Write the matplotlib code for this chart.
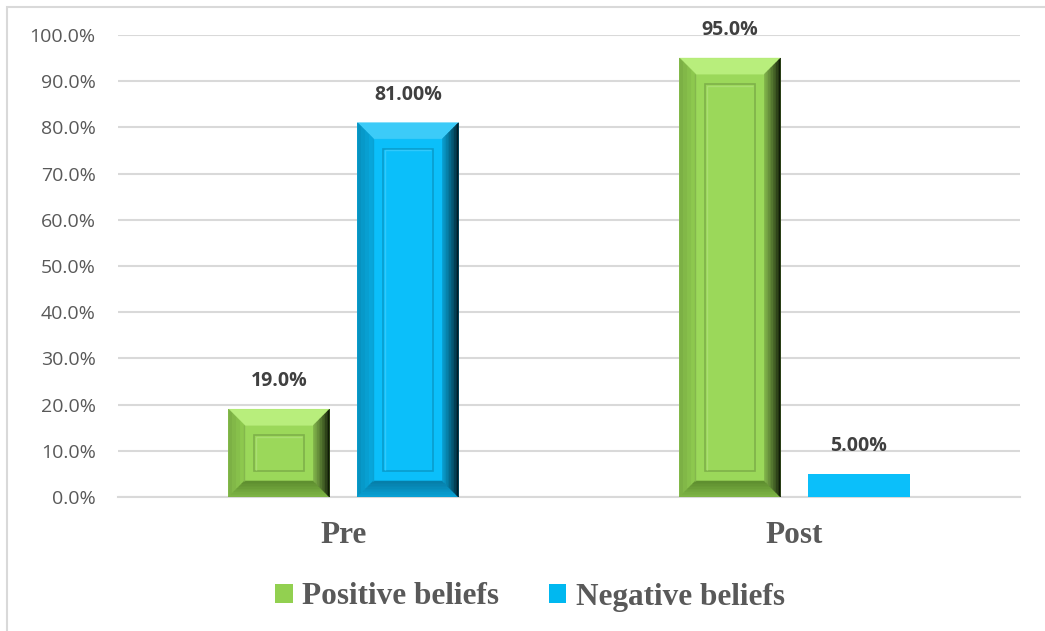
import numpy as np
import matplotlib
matplotlib.use("Agg")
import matplotlib.pyplot as plt
from matplotlib.patches import Polygon, Rectangle
from matplotlib.colors import to_rgb

# ---- data ----
categories = ["Pre", "Post"]
positive = [19.0, 95.0]
negative = [81.0, 5.0]
positive_labels = ["19.0%", "95.0%"]
negative_labels = ["81.00%", "5.00%"]
series_names = ["Positive beliefs", "Negative beliefs"]
yticks = [0, 10, 20, 30, 40, 50, 60, 70, 80, 90, 100]

W, H = 1045, 631
fig = plt.figure(figsize=(W / 100, H / 100), dpi=100)
ax = fig.add_axes([118 / W, (H - 497) / H, 902 / W, 462 / H])
ax.set_xlim(-0.5, 1.5)
ax.set_ylim(0, 100)

green = "#9BD85A"
blue = "#0BBFFA"
x = np.arange(len(categories))
bw = 0.224
off = 0.143

bars_p = ax.bar(x - off, positive, bw, color=green, zorder=3, linewidth=0)
bars_n = ax.bar(x + off, negative, bw, color=blue, zorder=3, linewidth=0)

# grid
ax.set_yticks(yticks)
ax.set_yticklabels([f"{v:.1f}%" for v in yticks])
ax.yaxis.grid(True, color="#D9D9D9", linewidth=1.5, zorder=0)
ax.set_axisbelow(True)
for s in ["top", "right", "left"]:
    ax.spines[s].set_visible(False)
ax.spines["bottom"].set_color("#D9D9D9")
ax.spines["bottom"].set_linewidth(1.5)
ax.tick_params(axis="y", length=0, pad=16, labelsize=14, labelcolor="#595959")
for t in ax.get_yticklabels():
    t.set_fontfamily("Open Sans")
ax.set_xticks(x)
ax.set_xticklabels(categories)
ax.tick_params(axis="x", length=0, pad=17)
for t in ax.get_xticklabels():
    t.set_fontfamily("Liberation Serif")
    t.set_fontweight("bold")
    t.set_fontsize(22.5)
    t.set_color("#595959")

# bevel decoration derived from bar patches
def mix(c1, c2, t):
    a, b = np.array(to_rgb(c1)), np.array(to_rgb(c2))
    return tuple(a + (b - a) * t)

fig.canvas.draw()
toD = ax.transData
inv = ax.transData.inverted()

def bevel(patch, base, light, left_c, bottom_c, right_dark):
    x0, y0 = patch.get_x(), patch.get_y()
    x1, y1 = x0 + patch.get_width(), y0 + patch.get_height()
    (px0, py0), (px1, py1) = toD.transform([(x0, y0), (x1, y1)])
    if py1 - py0 < 40:
        return
    b = 16
    def D(pts):
        return inv.transform(pts)
    def poly(pts, col, z=4):
        ax.add_patch(Polygon(D(pts), facecolor=col, edgecolor=col, linewidth=0.4, zorder=z))
    # top
    poly([(px0, py1), (px1, py1), (px1 - b, py1 - b), (px0 + b, py1 - b)], light)
    # left gradient
    n = 4
    for i in range(n):
        xa, xb = px0 + b * i / n, px0 + b * (i + 1) / n
        col = mix(mix(left_c, "black", 0.12), left_c, i / (n - 1))
        poly([(xa, py0 + b * i / n), (xa, py1 - b * i / n),
              (xb, py1 - b * (i + 1) / n), (xb, py0 + b * (i + 1) / n)], col)
    # bottom gradient strips
    n = 6
    for i in range(n):
        ya, yb = py0 + b * i / n, py0 + b * (i + 1) / n
        col = mix(mix(bottom_c, base, 0.5), bottom_c, i / (n - 1))
        poly([(px0 + b * i / n, ya), (px1 - b * i / n, ya),
              (px1 - b * (i + 1) / n, yb), (px0 + b * (i + 1) / n, yb)], col)
    # right gradient strips
    n = 10
    for i in range(n):
        xa, xb = px1 - b * i / n, px1 - b * (i + 1) / n
        col = mix(right_dark, mix(base, "black", 0.2), (i / (n - 1)) ** 0.8)
        poly([(xa, py0 + b * i / n), (xa, py1 - b * i / n),
              (xb, py1 - b * (i + 1) / n), (xb, py0 + b * (i + 1) / n)], col, z=4.5)
    # inner frame line
    ax.add_patch(Polygon(D([(px0 + b, py0 + b), (px0 + b, py1 - b)]), closed=False, fill=False,
                         edgecolor=mix(base, "black", 0.15), linewidth=1.0, zorder=5))
    # inner panel
    c = 26
    ax.add_patch(Rectangle(D([(px0 + c, py0 + c)])[0],
                           *(D([(px1 - c, py1 - c)])[0] - D([(px0 + c, py0 + c)])[0]),
                           fill=False, edgecolor=mix(base, "black", 0.18), linewidth=1.2, zorder=5))
    ax.add_patch(Polygon(D([(px0 + c + 1.5, py0 + c + 1.5), (px0 + c + 1.5, py1 - c - 1.5),
                            (px1 - c - 1.5, py1 - c - 1.5)]), closed=False, fill=False,
                         edgecolor=mix(base, "white", 0.15), linewidth=1.0, zorder=5))

for p in bars_p:
    bevel(p, green, "#B8EE7C", "#8DC84E", "#5F8F30", "#0C1605")
for p in bars_n:
    bevel(p, blue, "#3CCBF8", "#08A6DA", "#067FAA", "#001A24")

# data labels
for p, lab in list(zip(bars_p, positive_labels)) + list(zip(bars_n, negative_labels)):
    xc = p.get_x() + p.get_width() / 2
    top = p.get_height()
    ax.annotate(lab, (xc, top), xytext=(0, 20), textcoords="offset points",
                ha="center", va="center", fontsize=14, fontweight="bold",
                fontfamily="Open Sans", color="#404040", annotation_clip=False)

# legend
h1 = Rectangle((0, 0), 1, 1, facecolor="#92D050")
h2 = Rectangle((0, 0), 1, 1, facecolor="#00B8F0")
fig.legend([h1, h2], series_names, loc="center", bbox_to_anchor=(530 / W, 1 - 597 / H),
           ncol=2, frameon=False, handlelength=0.55, handleheight=0.55,
           handletextpad=0.3, columnspacing=1.6,
           prop={"family": "Liberation Serif", "weight": "bold", "size": 22.5},
           labelcolor="#595959")

# outer chart border
fig.add_artist(Rectangle((7 / W, -0.2), 1.2, 1.2 - 6.5 / H, transform=fig.transFigure,
                         fill=False, edgecolor="#D9D9D9", linewidth=1.5))

fig.savefig("out.png", dpi=100)
